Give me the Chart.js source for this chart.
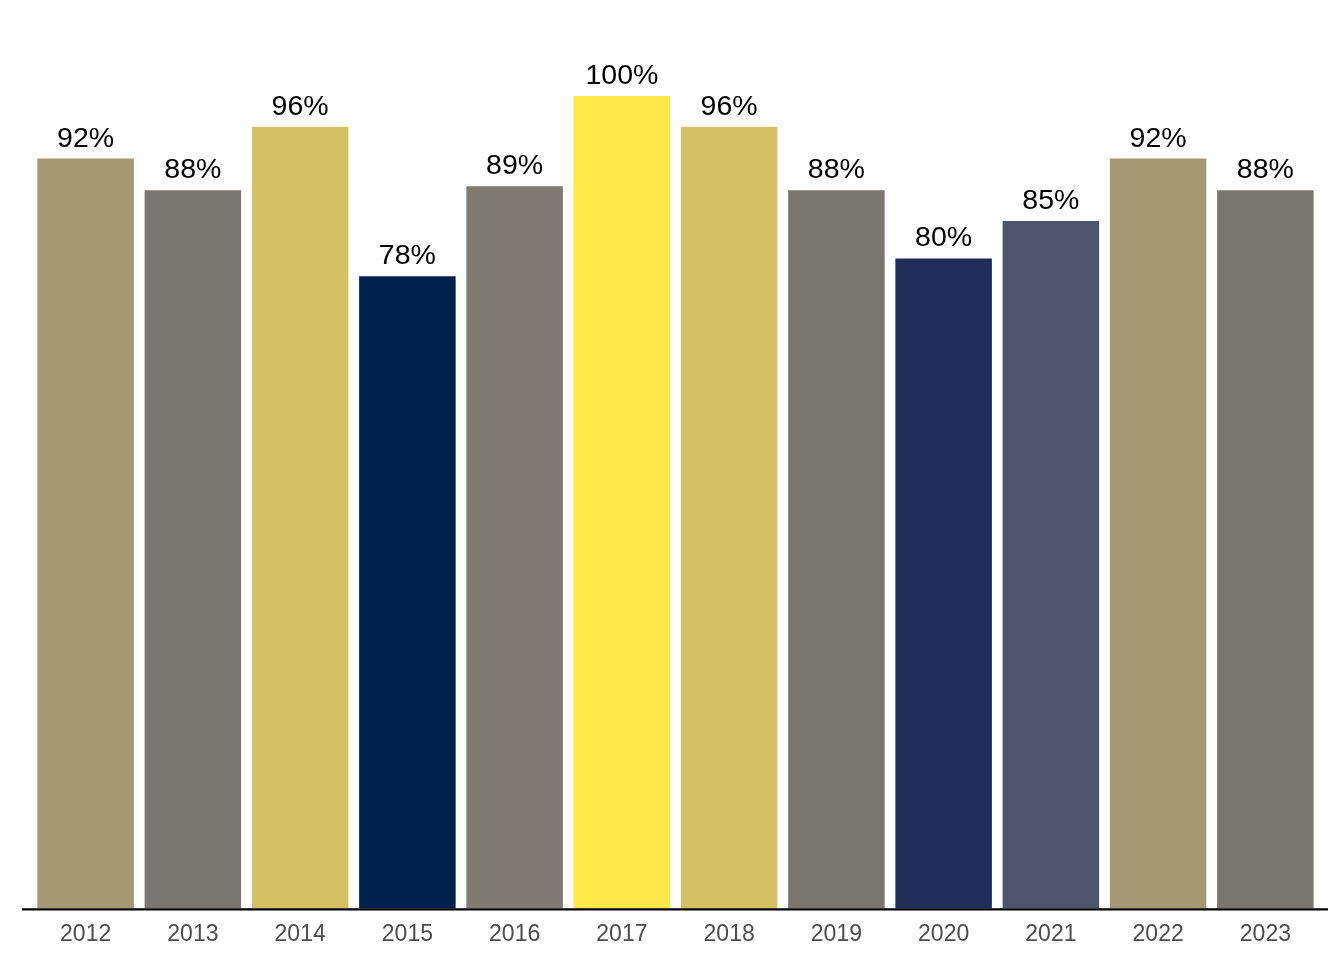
<!DOCTYPE html>
<html>
<head>
<meta charset="utf-8">
<script src="https://cdn.jsdelivr.net/npm/chart.js@4.4.0/dist/chart.umd.min.js"></script>
<style>
  html, body { margin: 0; padding: 0; background: #fff; }
  #wrap { width: 1344px; height: 960px; }
</style>
</head>
<body>
<div id="wrap"><canvas id="grafica"></canvas></div>
<script>
var anios = ['2012', '2013', '2014', '2015', '2016', '2017', '2018', '2019', '2020', '2021', '2022', '2023'];
var porcentajes = [92.3, 88.4, 96.2, 77.8, 88.9, 100, 96.2, 88.4, 80, 84.6, 92.3, 88.4];
var colores = ['#A39A74', '#797670', '#D3C164', '#00204D', '#7F7B72', '#FEE948',
               '#D3C164', '#797670', '#1F2F5A', '#4D546C', '#A39A74', '#797670'];

// etiquetas encima de las barras y linea del eje
var extras = {
    id: 'extras',
    afterDatasetsDraw: function(chart){
        var ctx = chart.ctx;
        var meta = chart.getDatasetMeta(0);
        ctx.save();
        ctx.fillStyle = '#000';
        ctx.font = '28.5px "Liberation Sans", Arial, sans-serif';
        ctx.textAlign = 'center';
        ctx.textBaseline = 'alphabetic';
        meta.data.forEach(function(bar, i){
            ctx.fillText(Math.round(porcentajes[i]) + '%', bar.x, bar.y - 12);
        });
        var y0 = chart.scales.y.getPixelForValue(0);
        ctx.strokeStyle = '#000';
        ctx.lineWidth = 2.2;
        ctx.beginPath();
        ctx.moveTo(22, y0 + 1);
        ctx.lineTo(1328, y0 + 1);
        ctx.stroke();
        ctx.restore();
    }
};

var ctx1 = document.getElementById('grafica').getContext('2d');
var chart = new Chart(ctx1, {
    type: 'bar',
    data: {
        labels: anios,
        datasets: [{
            data: porcentajes,
            backgroundColor: colores,
            borderWidth: 0,
            barPercentage: 0.9,
            categoryPercentage: 1.0
        }]
    },
    options: {
        responsive: true,
        maintainAspectRatio: false,
        animation: false,
        layout: { padding: { left: 32, right: 25, top: 96, bottom: 0 } },
        plugins: { legend: { display: false }, tooltip: { enabled: false } },
        scales: {
            x: {
                grid: { display: false, drawTicks: false },
                border: { display: false },
                ticks: {
                    color: '#4D4D4D',
                    padding: 12,
                    font: { family: '"Liberation Sans", Arial, sans-serif', size: 23 }
                }
            },
            y: {
                display: false,
                min: 0,
                max: 100
            }
        }
    },
    plugins: [extras]
});
</script>
</body>
</html>
